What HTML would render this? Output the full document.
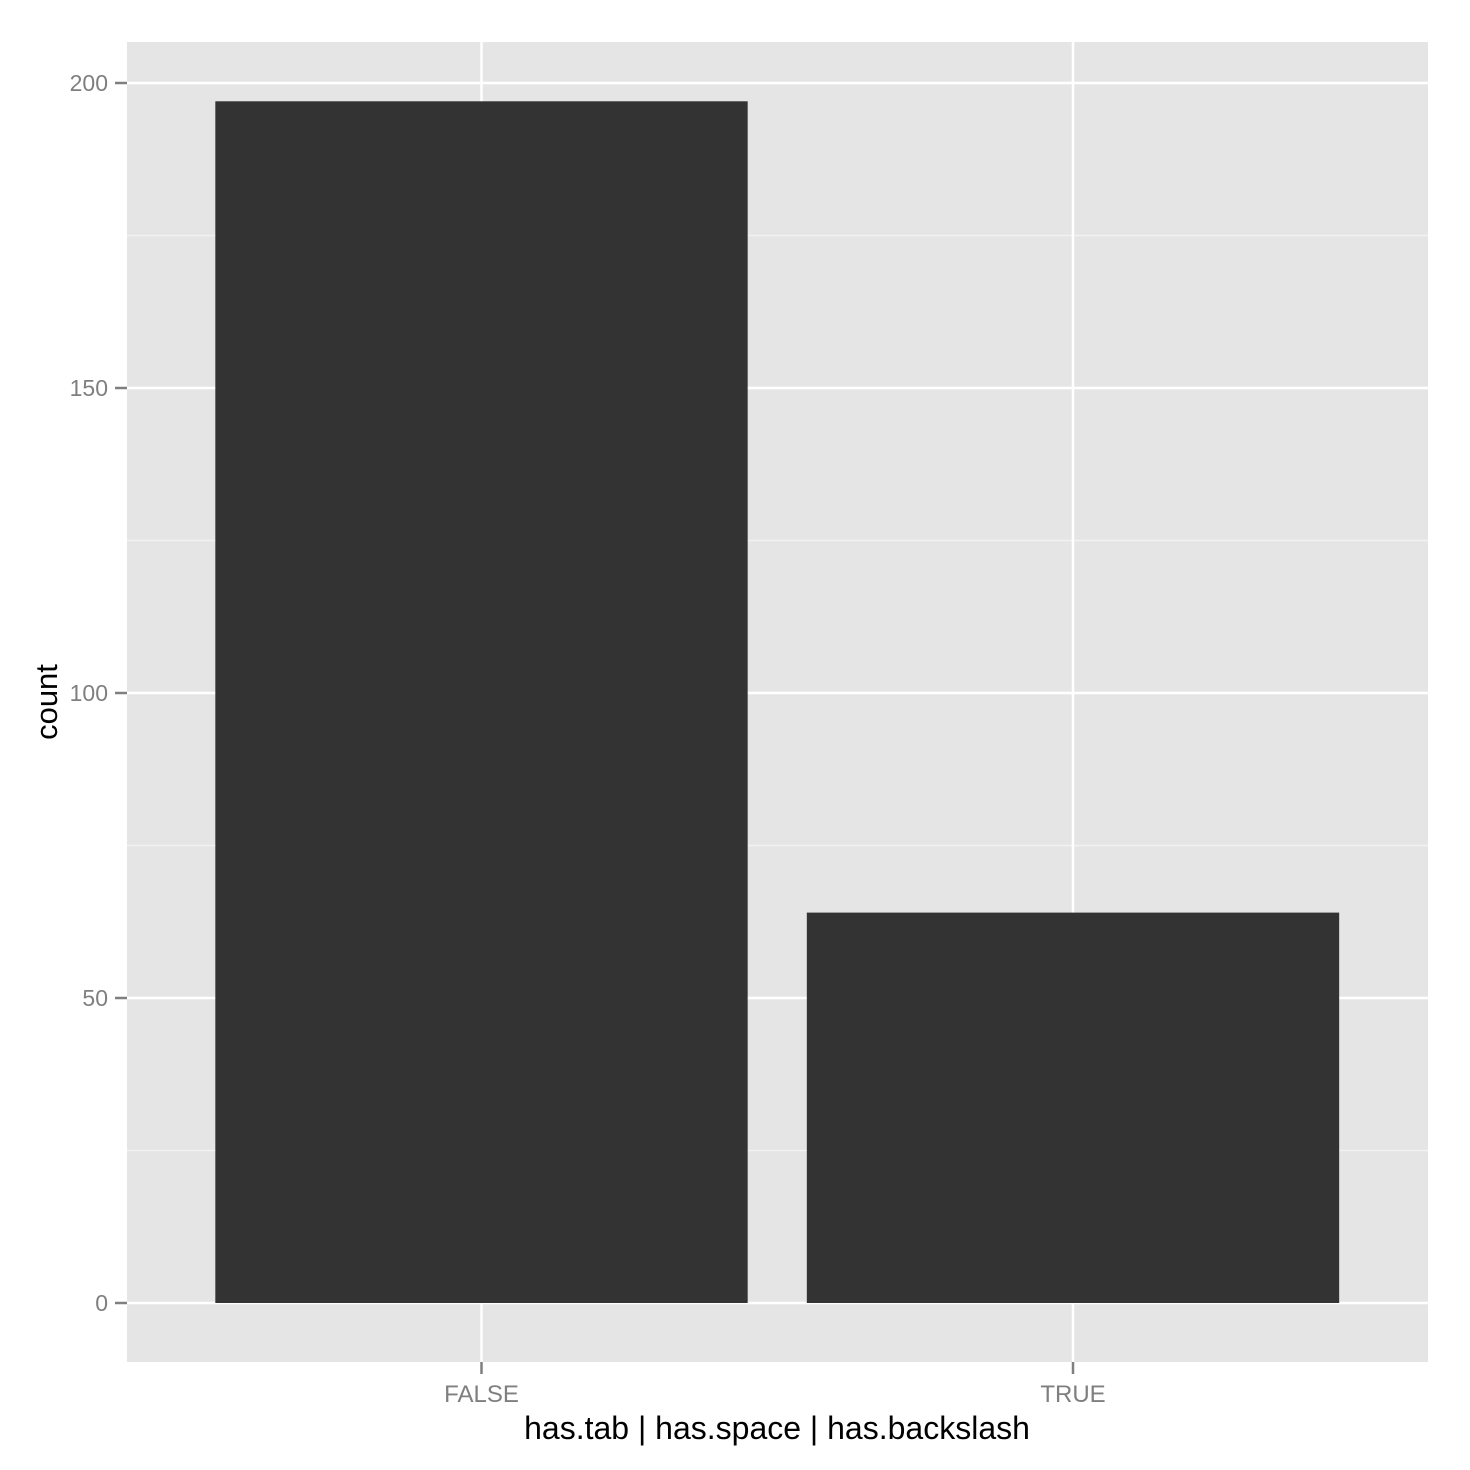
<!DOCTYPE html>
<html><head><meta charset="utf-8"><style>
html,body{margin:0;padding:0;background:#fff;}
svg{display:block;font-family:"Liberation Sans",sans-serif;}
</style></head><body>
<svg id="chart" width="1470" height="1470">
<rect x="127" y="42" width="1301" height="1320" fill="#e5e5e5"/>
<g id="grid"></g>
<g id="bars"></g>
<g id="axes"></g>
<text x="777" y="1439" text-anchor="middle" font-size="32" fill="#000">has.tab | has.space | has.backslash</text>
<text transform="translate(57,702) rotate(-90)" text-anchor="middle" font-size="31" fill="#000">count</text>
</svg>
<script>
const categories = ["FALSE", "TRUE"];
const counts = [197, 64];
const yTicks = [0, 50, 100, 150, 200];
const yMinor = [25, 75, 125, 175];

const NS = "http://www.w3.org/2000/svg";
const px0 = 127, px1 = 1428;
function y(v){ return 1303 - v * 6.1; }
const band = 591.5;
function x(i){ return 481.5 + i * band; }
function mk(tag, attrs, parent){
  const e = document.createElementNS(NS, tag);
  for (const k in attrs) e.setAttribute(k, attrs[k]);
  document.getElementById(parent).appendChild(e);
  return e;
}
yMinor.forEach(v => {
  const l = mk("line", {x1:px0, x2:px1, y1:y(v), y2:y(v), stroke:"#f2f2f2", "stroke-width":1.5}, "grid");
  
  
});
yTicks.forEach(v => {
  const l = mk("line", {x1:px0, x2:px1, y1:y(v), y2:y(v), stroke:"#fff", "stroke-width":2.5}, "grid");
  
  
  const t = mk("line", {x1:115, x2:127, y1:y(v), y2:y(v), stroke:"#7f7f7f", "stroke-width":2.5}, "axes");
  
  
  const tx = mk("text", {x:108, y:y(v)+8, "text-anchor":"end", "font-size":23, fill:"#7f7f7f"}, "axes");
  tx.textContent = v;
  
  
});
categories.forEach((c, i) => {
  const l = mk("line", {x1:x(i), x2:x(i), y1:42, y2:1362, stroke:"#fff", "stroke-width":2.5}, "grid");
  
  
  const w = band * 0.9;
  const b = mk("rect", {x:x(i)-w/2, y:y(counts[i]), width:w, height:y(0)-y(counts[i]), fill:"#333333"}, "bars");
  
  
  const t = mk("line", {x1:x(i), x2:x(i), y1:1362, y2:1374, stroke:"#7f7f7f", "stroke-width":2.5}, "axes");
  
  
  const tx = mk("text", {x:x(i), y:1402, "text-anchor":"middle", "font-size":24, fill:"#7f7f7f"}, "axes");
  tx.textContent = c;
  
  
});
</script>
</body></html>
